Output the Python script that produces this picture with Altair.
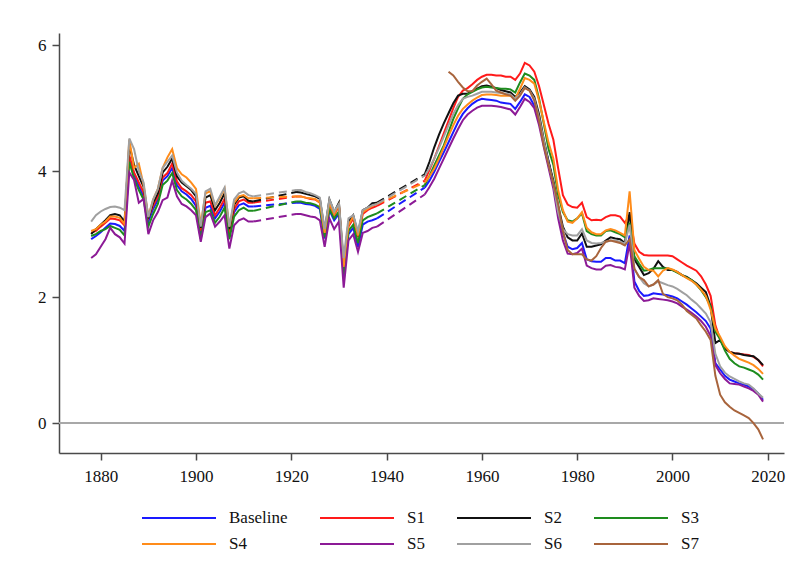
import altair as alt
import pandas as pd

# ---------------- data ----------------
YEARS_A = list(range(1878, 1913))   # 1878-1912
YEARS_B = list(range(1921, 1939))   # 1921-1938
YEARS_C = list(range(1948, 2020))   # 1948-2019
YEARS_S7 = list(range(1953, 2020))  # 1953-2019

SERIES = ["Baseline", "S1", "S2", "S3", "S4", "S5", "S6", "S7"]
COLORS = ["#1a1aff", "#ff1a1a", "#111111", "#1e8c1e", "#ff8c1a", "#8c1a96", "#a0a0a0", "#a8643c"]

baseline_a = [2.92, 2.97, 3.03, 3.10, 3.17, 3.16, 3.13, 3.05, 4.22, 3.95,
              3.76, 3.60, 3.20, 3.40, 3.55, 3.85, 3.92, 4.05, 3.78, 3.68,
              3.63, 3.56, 3.45, 3.00, 3.42, 3.45, 3.25, 3.36, 3.50, 2.98,
              3.35, 3.46, 3.49, 3.44, 3.44]
baseline_b = [3.50, 3.50, 3.48, 3.47, 3.45, 3.40, 2.93, 3.38, 3.22, 3.32,
              2.32, 3.00, 3.10, 2.80, 3.15, 3.20, 3.22, 3.25]
baseline_c = [3.74, 3.85,
              3.99, 4.15, 4.30, 4.46, 4.62, 4.78, 4.91, 5.00, 5.07, 5.12,
              5.15, 5.14, 5.13, 5.12, 5.09, 5.08, 5.07, 4.99, 5.10, 5.22,
              5.18, 5.04, 4.78, 4.46, 4.15, 3.80, 3.35, 3.02, 2.80, 2.76,
              2.78, 2.86, 2.60, 2.57, 2.56, 2.56, 2.62, 2.62, 2.58, 2.58,
              2.54, 2.98, 2.25, 2.10, 2.02, 2.03, 2.06, 2.05, 2.04, 2.03,
              2.01, 1.98, 1.93, 1.88, 1.82, 1.76, 1.69, 1.62, 1.50, 0.95,
              0.85, 0.75, 0.69, 0.66, 0.63, 0.61, 0.58, 0.54, 0.47, 0.37]

s1_a = [3.02, 3.05, 3.12, 3.18, 3.25, 3.24, 3.22, 3.14, 4.25, 3.98,
        3.82, 3.66, 3.26, 3.45, 3.60, 3.90, 3.97, 4.12, 3.84, 3.73,
        3.68, 3.62, 3.52, 3.05, 3.50, 3.52, 3.30, 3.42, 3.56, 3.02,
        3.40, 3.52, 3.55, 3.50, 3.50]
s1_b = [3.60, 3.60, 3.58, 3.56, 3.55, 3.50, 3.00, 3.48, 3.30, 3.45,
        2.45, 3.12, 3.25, 2.95, 3.32, 3.38, 3.42, 3.45]
s1_c = [3.85, 4.02,
        4.20, 4.40, 4.60, 4.80, 5.00, 5.18, 5.28, 5.32, 5.38, 5.45,
        5.50, 5.53, 5.53, 5.52, 5.52, 5.50, 5.50, 5.45, 5.55, 5.72,
        5.68, 5.58, 5.35, 5.05, 4.75, 4.50, 4.05, 3.62, 3.47, 3.43,
        3.42, 3.50, 3.27, 3.22, 3.23, 3.22, 3.27, 3.30, 3.30, 3.28,
        3.18, 3.30, 2.85, 2.72, 2.67, 2.66, 2.66, 2.66, 2.66, 2.66,
        2.65, 2.60, 2.55, 2.50, 2.46, 2.42, 2.33, 2.20, 2.02, 1.55,
        1.33, 1.20, 1.13, 1.11, 1.10, 1.09, 1.08, 1.05, 1.00, 0.90]

s2_a = [3.00, 3.08, 3.15, 3.22, 3.30, 3.32, 3.30, 3.20, 4.42, 4.10,
        3.92, 3.75, 3.25, 3.50, 3.65, 3.98, 4.07, 4.20, 3.92, 3.82,
        3.76, 3.70, 3.60, 3.10, 3.58, 3.62, 3.38, 3.50, 3.65, 3.08,
        3.47, 3.58, 3.60, 3.53, 3.52]
s2_b = [3.67, 3.66, 3.64, 3.62, 3.60, 3.56, 3.05, 3.55, 3.35, 3.50,
        2.50, 3.20, 3.30, 3.00, 3.38, 3.42, 3.49, 3.50]
s2_c = [3.95, 4.15,
        4.38, 4.58, 4.76, 4.92, 5.08, 5.20, 5.23, 5.23, 5.27, 5.31,
        5.35, 5.36, 5.34, 5.32, 5.29, 5.27, 5.25, 5.18, 5.25, 5.35,
        5.30, 5.18, 4.90, 4.50, 4.15, 3.85, 3.45, 3.12, 2.95, 2.90,
        2.90, 3.01, 2.80, 2.80, 2.82, 2.84, 2.90, 2.95, 2.93, 2.92,
        2.86, 3.35, 2.60, 2.48, 2.35, 2.38, 2.45, 2.57, 2.48, 2.43,
        2.43, 2.40, 2.35, 2.32, 2.27, 2.22, 2.15, 2.08, 1.85, 1.27,
        1.32, 1.18, 1.13, 1.11, 1.10, 1.08, 1.07, 1.06, 1.00, 0.92]

s3_a = [2.97, 3.00, 3.05, 3.08, 3.13, 3.10, 3.07, 2.98, 4.15, 3.88,
        3.70, 3.55, 3.12, 3.32, 3.48, 3.78, 3.85, 3.97, 3.70, 3.60,
        3.55, 3.48, 3.38, 2.92, 3.35, 3.38, 3.18, 3.28, 3.42, 2.92,
        3.28, 3.38, 3.42, 3.37, 3.37]
s3_b = [3.52, 3.52, 3.50, 3.49, 3.47, 3.43, 2.95, 3.40, 3.25, 3.36,
        2.36, 3.05, 3.15, 2.86, 3.22, 3.27, 3.30, 3.33]
s3_c = [3.78, 3.93,
        4.09, 4.25, 4.41, 4.62, 4.83, 5.00, 5.15, 5.22, 5.26, 5.30,
        5.33, 5.34, 5.33, 5.32, 5.31, 5.31, 5.30, 5.25, 5.41, 5.55,
        5.52, 5.45, 5.15, 4.75, 4.35, 4.10, 3.62, 3.35, 3.22, 3.20,
        3.25, 3.33, 3.05, 3.00, 2.98, 2.98, 3.05, 3.06, 3.03, 3.00,
        2.95, 3.18, 2.65, 2.53, 2.42, 2.43, 2.46, 2.46, 2.46, 2.46,
        2.43, 2.39, 2.35, 2.31, 2.27, 2.20, 2.11, 2.00, 1.85, 1.45,
        1.33, 1.15, 1.02, 0.95, 0.90, 0.88, 0.85, 0.82, 0.77, 0.69]

s4_a = [3.05, 3.08, 3.15, 3.20, 3.28, 3.28, 3.26, 3.16, 4.50, 4.05,
        4.12, 3.78, 3.28, 3.55, 3.72, 4.05, 4.22, 4.35, 4.05, 3.95,
        3.90, 3.82, 3.72, 3.15, 3.65, 3.68, 3.45, 3.58, 3.72, 3.12,
        3.50, 3.60, 3.62, 3.57, 3.57]
s4_b = [3.60, 3.60, 3.58, 3.57, 3.56, 3.50, 3.02, 3.50, 3.32, 3.47,
        2.48, 3.15, 3.28, 2.98, 3.35, 3.40, 3.45, 3.48]
s4_c = [3.82, 3.92,
        4.04, 4.20, 4.38, 4.56, 4.73, 4.88, 4.99, 5.06, 5.12, 5.17,
        5.21, 5.22, 5.22, 5.21, 5.20, 5.20, 5.20, 5.15, 5.31, 5.48,
        5.45, 5.39, 5.12, 4.78, 4.45, 4.20, 3.70, 3.38, 3.20, 3.18,
        3.25, 3.35, 3.10, 3.03, 3.00, 3.00, 3.06, 3.08, 3.06, 3.02,
        2.98, 3.68, 2.75, 2.61, 2.48, 2.43, 2.42, 2.33, 2.42, 2.46,
        2.44, 2.40, 2.35, 2.30, 2.26, 2.20, 2.12, 2.02, 1.80, 1.50,
        1.37, 1.22, 1.13, 1.07, 1.02, 0.99, 0.96, 0.92, 0.86, 0.78]

s5_a = [2.62, 2.68, 2.80, 2.92, 3.10, 3.00, 2.95, 2.85, 3.98, 3.86,
        3.50, 3.56, 3.00, 3.22, 3.35, 3.54, 3.58, 3.85, 3.60, 3.48,
        3.44, 3.38, 3.30, 2.88, 3.27, 3.33, 3.12, 3.20, 3.30, 2.77,
        3.14, 3.22, 3.25, 3.20, 3.20]
s5_b = [3.32, 3.32, 3.30, 3.28, 3.27, 3.22, 2.80, 3.25, 3.08, 3.20,
        2.15, 2.90, 3.00, 2.72, 3.02, 3.05, 3.10, 3.12]
s5_c = [3.63, 3.75,
        3.88, 4.04, 4.20, 4.36, 4.52, 4.67, 4.81, 4.90, 4.96, 5.01,
        5.04, 5.04, 5.04, 5.03, 5.02, 5.00, 4.98, 4.90, 5.02, 5.15,
        5.10, 5.00, 4.73, 4.38, 4.05, 3.72, 3.25, 2.90, 2.69, 2.68,
        2.70, 2.77, 2.50, 2.46, 2.44, 2.44, 2.50, 2.51, 2.48, 2.47,
        2.44, 2.85, 2.15, 2.02, 1.94, 1.95, 1.98, 1.97, 1.96, 1.95,
        1.93, 1.90, 1.85, 1.80, 1.75, 1.69, 1.62, 1.53, 1.38, 0.92,
        0.79, 0.70, 0.63, 0.62, 0.61, 0.58, 0.55, 0.51, 0.45, 0.34]

s6_a = [3.20, 3.30, 3.36, 3.40, 3.43, 3.44, 3.42, 3.38, 4.52, 4.35,
        4.00, 3.82, 3.27, 3.55, 3.72, 4.05, 4.15, 4.25, 3.98, 3.85,
        3.78, 3.72, 3.64, 3.12, 3.68, 3.72, 3.46, 3.60, 3.74, 3.12,
        3.55, 3.65, 3.68, 3.62, 3.60]
s6_b = [3.70, 3.70, 3.67, 3.65, 3.62, 3.58, 3.08, 3.55, 3.36, 3.48,
        2.62, 3.25, 3.30, 3.05, 3.38, 3.42, 3.46, 3.48]
s6_c = [3.93, 4.05,
        4.20, 4.37, 4.55, 4.73, 4.91, 5.05, 5.15, 5.18, 5.20, 5.23,
        5.26, 5.26, 5.26, 5.25, 5.24, 5.23, 5.22, 5.15, 5.22, 5.33,
        5.28, 5.15, 4.85, 4.48, 4.12, 3.80, 3.35, 3.08, 3.00, 2.98,
        2.98, 3.08, 2.90, 2.86, 2.85, 2.86, 2.88, 2.90, 2.90, 2.88,
        2.85, 3.15, 2.45, 2.32, 2.22, 2.17, 2.20, 2.25, 2.22, 2.19,
        2.17, 2.13, 2.08, 2.03, 1.96, 1.90, 1.82, 1.74, 1.60, 1.10,
        0.90, 0.80, 0.74, 0.70, 0.66, 0.63, 0.61, 0.55, 0.47, 0.40]

s7_c = [5.58, 5.52, 5.42, 5.33, 5.27, 5.27, 5.36,
        5.42, 5.47, 5.38, 5.28, 5.25, 5.22, 5.20, 5.12, 5.20, 5.32,
        5.28, 5.12, 4.80, 4.40, 4.10, 3.80, 3.48, 3.05, 2.75, 2.68,
        2.68, 2.68, 2.60, 2.58, 2.65, 2.78, 2.88, 2.90, 2.88, 2.86,
        2.82, 2.92, 2.45, 2.32, 2.27, 2.17, 2.20, 2.27, 2.05, 2.00,
        1.98, 1.95, 1.88, 1.78, 1.72, 1.66, 1.55, 1.45, 1.32, 0.75,
        0.45, 0.33, 0.26, 0.20, 0.16, 0.12, 0.08, 0.00, -0.10, -0.26]

periods = {
    "Baseline": [(YEARS_A, baseline_a), (YEARS_B, baseline_b), (YEARS_C, baseline_c)],
    "S1": [(YEARS_A, s1_a), (YEARS_B, s1_b), (YEARS_C, s1_c)],
    "S2": [(YEARS_A, s2_a), (YEARS_B, s2_b), (YEARS_C, s2_c)],
    "S3": [(YEARS_A, s3_a), (YEARS_B, s3_b), (YEARS_C, s3_c)],
    "S4": [(YEARS_A, s4_a), (YEARS_B, s4_b), (YEARS_C, s4_c)],
    "S5": [(YEARS_A, s5_a), (YEARS_B, s5_b), (YEARS_C, s5_c)],
    "S6": [(YEARS_A, s6_a), (YEARS_B, s6_b), (YEARS_C, s6_c)],
    "S7": [(YEARS_S7, s7_c)],
}

solid_rows, dash_rows = [], []
for name in SERIES:
    segs = periods[name]
    for k, (yrs, vals) in enumerate(segs):
        for yr, v in zip(yrs, vals):
            solid_rows.append({"series": name, "seg": f"{name}-{k}", "year": yr, "value": v})
    for k in range(len(segs) - 1):
        (y0, v0), (y1, v1) = segs[k], segs[k + 1]
        dash_rows.append({"series": name, "seg": f"{name}-g{k}", "year": y0[-1], "value": v0[-1]})
        dash_rows.append({"series": name, "seg": f"{name}-g{k}", "year": y1[0], "value": v1[0]})

solid_df = pd.DataFrame(solid_rows)
dash_df = pd.DataFrame(dash_rows)
zero_df = pd.DataFrame({"value": [0]})

FONT = "Liberation Serif, Times New Roman, serif"

x_enc = alt.X("year:Q",
              scale=alt.Scale(domain=[1871.25, 2023.4], nice=False, zero=False),
              axis=alt.Axis(values=[1880, 1900, 1920, 1940, 1960, 1980, 2000, 2020],
                            format="d", title=None, grid=False, tickSize=7,
                            labelPadding=8))
y_enc = alt.Y("value:Q",
              scale=alt.Scale(domain=[-0.476, 6.195], nice=False, zero=False),
              axis=alt.Axis(values=[0, 2, 4, 6], format="d", title=None, grid=False,
                            tickSize=7, labelPadding=6))
color_enc = alt.Color("series:N",
                      scale=alt.Scale(domain=SERIES, range=COLORS),
                      legend=alt.Legend(orient="none", legendX=82, legendY=475,
                                        direction="horizontal", columns=4, title=None,
                                        symbolType="stroke", symbolSize=5476,
                                        symbolStrokeWidth=2, clipHeight=20,
                                        labelFont=FONT, labelFontSize=17,
                                        labelColor="#111111", labelOffset=12,
                                        columnPadding=31, rowPadding=6))

zero = alt.Chart(zero_df).mark_rule(color="#a8a8a8", strokeWidth=2).encode(y="value:Q")

solid = alt.Chart(solid_df).mark_line(strokeWidth=2).encode(
    x=x_enc, y=y_enc, color=color_enc, detail="seg:N")

dashed = alt.Chart(dash_df).mark_line(strokeWidth=2, strokeDash=[8, 5]).encode(
    x=x_enc, y=y_enc, color=color_enc, detail="seg:N")

chart = alt.layer(zero, solid, dashed).properties(
    width=725, height=420,
    autosize=alt.AutoSizeParams(type="none"),
    padding={"left": 59, "top": 33, "right": 11, "bottom": 131},
    background="white",
).configure_view(stroke=None).configure_axis(
    domainColor="#4a4a4a", domainWidth=1.5, tickColor="#4a4a4a", tickWidth=1.5,
    labelFont=FONT, labelFontSize=17, labelColor="#111111",
)

chart.save("out.html", embed_options={"renderer": "svg", "actions": False})
